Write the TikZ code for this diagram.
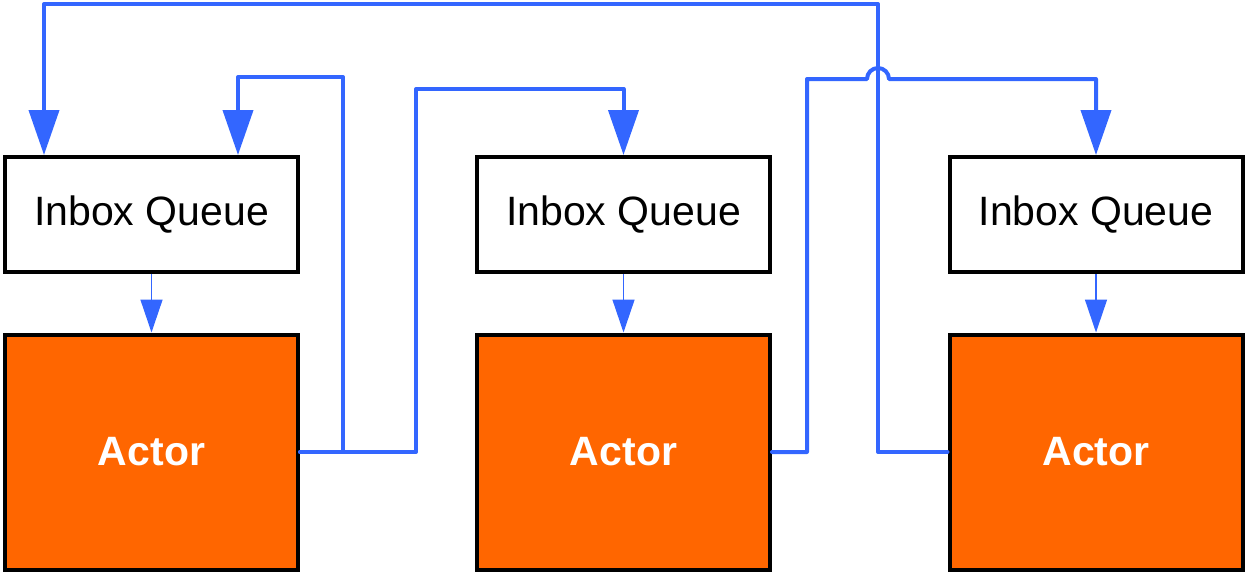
\documentclass[tikz,border=0pt]{standalone}
\usepackage{fontspec}
\setmainfont{Liberation Sans}
\usetikzlibrary{arrows.meta}
\definecolor{linkblue}{RGB}{51,102,255}
\definecolor{actororange}{RGB}{255,102,0}
\tikzset{
  inbox/.style={draw=black, line width=4pt, fill=white, minimum width=293pt, minimum height=115pt, inner sep=0pt, font=\fontsize{41}{49}\selectfont},
  actor/.style={draw=black, line width=4pt, fill=actororange, minimum width=293pt, minimum height=235pt, inner sep=0pt, text=white, font=\fontsize{41}{49}\selectfont\bfseries},
  msg/.style={draw=linkblue, line width=4pt, line join=round, line cap=round, -{Triangle[width=30pt,length=45pt]}, linkblue},
  feed/.style={draw=linkblue, line width=1.5pt, -{Triangle[width=22pt,length=33pt]}, linkblue}
}
\begin{document}
\begin{tikzpicture}[x=1pt,y=-1pt]
\useasboundingbox (0,0) rectangle (1248,573);
\node[inbox] (i1) at (151.5,214.5) {Inbox Queue};
\node[inbox] (i2) at (623.5,214.5) {Inbox Queue};
\node[inbox] (i3) at (1096,214.5) {Inbox Queue};
\node[actor] (a1) at (151.5,452) {Actor};
\node[actor] (a2) at (623.5,452) {Actor};
\node[actor] (a3) at (1096,452) {Actor};
\draw[feed] (i1.south) -- (a1.north);
\draw[feed] (i2.south) -- (a2.north);
\draw[feed] (i3.south) -- (a3.north);
% actor 3 -> inbox 1 (over the top)
\draw[msg] (a3.west) -- (878,452) -- (878,4) -- (44,4) -- ([xshift=-107.5pt]i1.north);
% actor 1 -> inbox 1
\draw[msg] (a1.east) -- (343,452) -- (343,77) -- (238,77) -- ([xshift=86.5pt]i1.north);
% actor 1 -> inbox 2
\draw[msg] (a1.east) -- (416,452) -- (416,89) -- (623.5,89) -- (i2.north);
% actor 2 -> inbox 3 with hop
\draw[msg] (a2.east) -- (807,452) -- (807,79) -- (867,79) arc[start angle=180,end angle=0,radius=11pt] -- (1096,79) -- (i3.north);
\end{tikzpicture}
\end{document}
